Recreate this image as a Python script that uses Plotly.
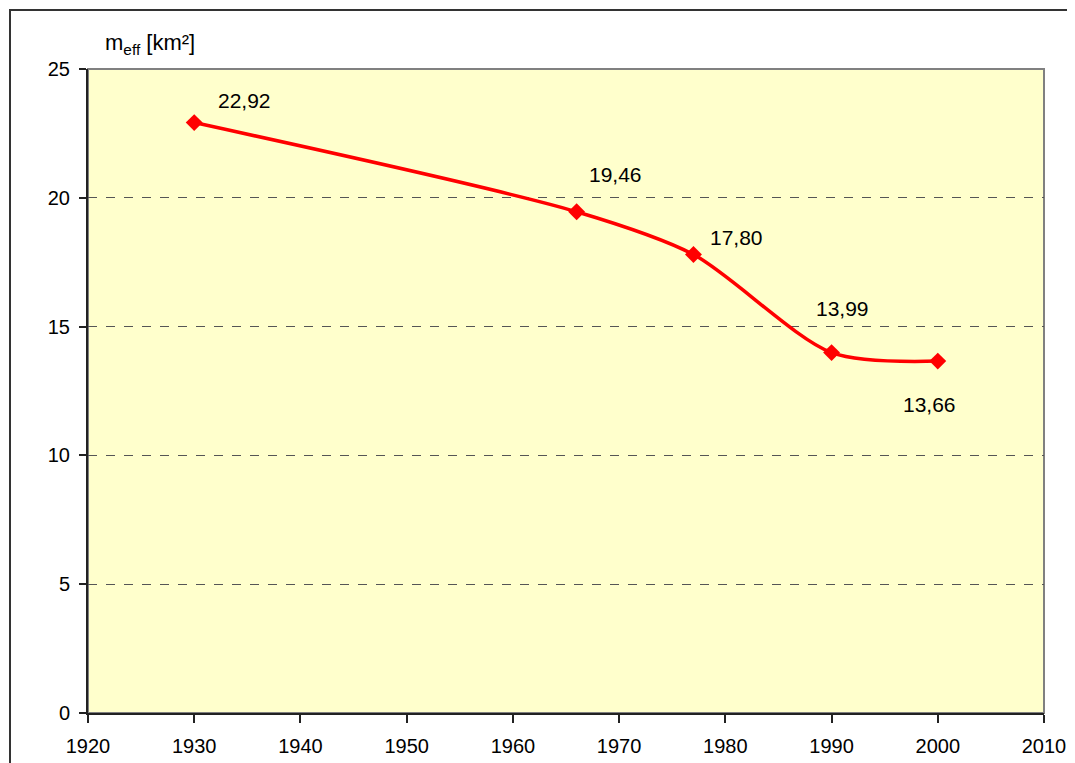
import plotly.graph_objects as go

years = [1930, 1966, 1977, 1990, 2000]
m_eff = [22.92, 19.46, 17.80, 13.99, 13.66]
labels = ["22,92", "19,46", "17,80", "13,99", "13,66"]
label_shift = [(50, 22), (39, 37), (43, 17), (11, 44), (-8, -43)]
x_ticks = list(range(1920, 2011, 10))
y_ticks = [0, 5, 10, 15, 20, 25]

OFF = 8  # page body margin
W, H = 1075 - OFF, 763 - OFF
L, R, T, B = 88 - OFF, 31, 69 - OFF, 50
pw, ph = W - L - R, H - T - B

FONT = "Liberation Sans, Arial, sans-serif"

fig = go.Figure()
fig.add_trace(go.Scatter(
    x=years, y=m_eff, mode="lines+markers",
    line=dict(color="#FF0000", width=3.5, shape="spline", smoothing=0.8),
    marker=dict(symbol="diamond", size=13, color="#FF0000"),
    hoverinfo="skip", showlegend=False, cliponaxis=False,
))

for xv, yv, lab, (dx, dy) in zip(years, m_eff, labels, label_shift):
    fig.add_annotation(x=xv, y=yv, text=lab, showarrow=False,
                       xshift=dx, yshift=dy,
                       font=dict(family=FONT, size=21, color="#000000"))

# y-axis title
fig.add_annotation(xref="paper", yref="paper",
                   x=(103 - 88) / pw, y=(713 - 44) / ph,
                   xanchor="left", yanchor="middle", showarrow=False,
                   text="m<sub>eff</sub> [km²]",
                   font=dict(family=FONT, size=22, color="#000000"))

# plot area border (gray top/right)
fig.add_shape(type="rect", xref="paper", yref="paper", x0=0, x1=1, y0=0, y1=1,
              line=dict(color="#808080", width=2), layer="below")
# outer chart frame
fig.add_shape(type="rect", xref="paper", yref="paper",
              x0=(10 - 88) / pw, x1=(1100 - 88) / pw,
              y0=(713 - 800) / ph, y1=(713 - 10) / ph,
              line=dict(color="#333333", width=2))

fig.update_layout(
    width=W, height=H,
    margin=dict(l=L, r=R, t=T, b=B, pad=0, autoexpand=False),
    paper_bgcolor="#FFFFFF", plot_bgcolor="#FFFFCC",
    font=dict(family=FONT, size=20, color="#000000"),
)
fig.update_xaxes(range=[1920, 2010], tickvals=x_ticks, showgrid=False, zeroline=False,
                 automargin=False,
                 showline=True, linecolor="#222222", linewidth=2,
                 ticks="outside", ticklen=8, tickcolor="#222222", tickwidth=1.5,
                 ticklabelstandoff=6,
                 tickfont=dict(family=FONT, size=20, color="#000000"))
fig.update_yaxes(range=[0, 25], tickvals=y_ticks, showgrid=True, gridcolor="#555555",
                 griddash="dash", gridwidth=1, zeroline=False,
                 automargin=False,
                 showline=True, linecolor="#222222", linewidth=2,
                 ticks="outside", ticklen=7, tickcolor="#222222", tickwidth=1.5,
                 ticklabelstandoff=5,
                 tickfont=dict(family=FONT, size=20, color="#000000"))

fig.write_html("out.html")
